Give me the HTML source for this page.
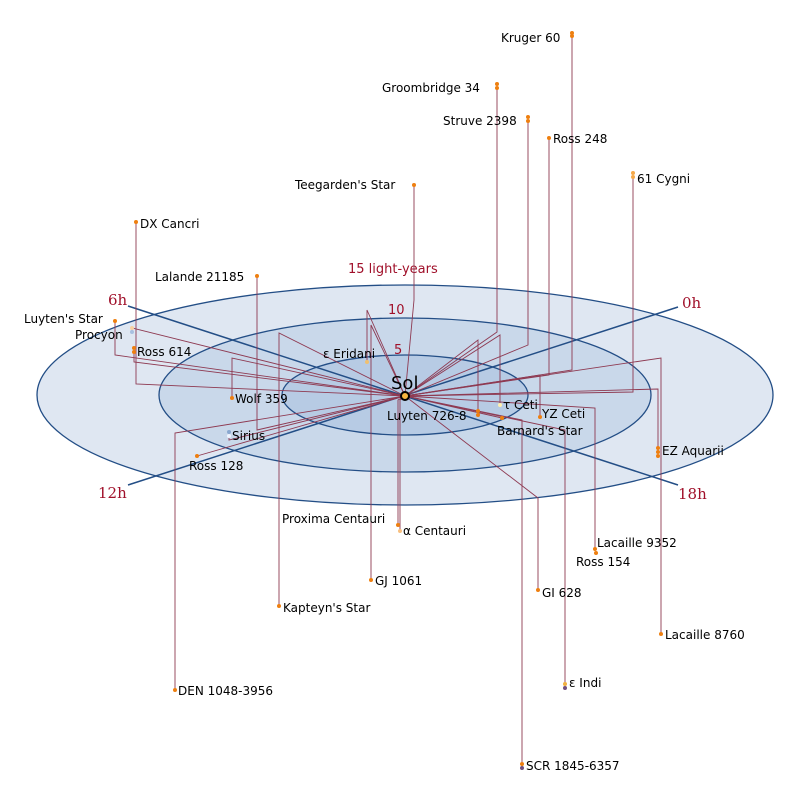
<!DOCTYPE html>
<html><head><meta charset="utf-8"><style>html,body{margin:0;padding:0;background:#fff}svg{display:block}</style></head>
<body>
<svg width="800" height="800" xmlns="http://www.w3.org/2000/svg" font-family="DejaVu Sans, Liberation Sans, sans-serif" font-size="12">
<rect width="800" height="800" fill="#fff"/>
<ellipse cx="405" cy="395" rx="368" ry="110" fill="#dfe7f2" stroke="#234e86" stroke-width="1.3"/>
<ellipse cx="405" cy="395" rx="246" ry="77" fill="#c9d8ea" stroke="#234e86" stroke-width="1.3"/>
<ellipse cx="405" cy="395" rx="123" ry="40" fill="#b7cbe4" stroke="#234e86" stroke-width="1.3"/>
<g stroke="#234e86" stroke-width="1.5">
<line x1="128" y1="306" x2="678" y2="485"/>
<line x1="678" y1="307" x2="128" y2="485"/>
</g>
<g fill="#a0102a" font-family="DejaVu Serif, Liberation Serif, serif">
<text x="108" y="305" font-size="15">6h</text>
<text x="682" y="308" font-size="15">0h</text>
<text x="98" y="498" font-size="15">12h</text>
<text x="678" y="499" font-size="15">18h</text>
</g>
<g fill="#a0102a" font-size="13">
<text x="348" y="273">15 light-years</text>
<text x="388" y="314">10</text>
<text x="394" y="354">5</text>
</g>
<g stroke="#8e3a52" stroke-width="0.9" fill="none">
<polyline points="572,35 572,370 405,396"/>
<polyline points="497,87 497,332 405,396"/>
<polyline points="528,120 528,345 405,396"/>
<polyline points="549,138 549,375 405,396"/>
<polyline points="633,176 633,392 405,396"/>
<polyline points="414,185 414,300 405,396"/>
<polyline points="136,222 136,384 405,396"/>
<polyline points="257,276 257,430 405,396"/>
<polyline points="115,321 115,355 405,396"/>
<polyline points="132,331 132,328 405,396"/>
<polyline points="134,350 134,362 405,396"/>
<polyline points="232,398 232,358 405,396"/>
<polyline points="229,433 229,440 405,396"/>
<polyline points="367,362 367,310 405,396"/>
<polyline points="197,456 405,396"/>
<polyline points="175,690 175,433 405,396"/>
<polyline points="279,606 279,333 405,396"/>
<polyline points="398,525 398,400 405,396"/>
<polyline points="400,531 400,400 405,396"/>
<polyline points="371,580 371,325 405,396"/>
<polyline points="538,590 538,498 405,396"/>
<polyline points="595,550 595,408 405,396"/>
<polyline points="661,634 661,358 405,396"/>
<polyline points="658,452 658,389 405,396"/>
<polyline points="565,686 565,430 405,396"/>
<polyline points="522,766 522,420 405,396"/>
<polyline points="500,405 500,335 405,396"/>
<polyline points="540,415 540,375 405,396"/>
<polyline points="502,418 405,396"/>
<polyline points="478,412 478,340 405,396"/>
</g>
<g fill="#ee7f10">
<circle cx="572" cy="33" r="2"/><circle cx="572" cy="36" r="2"/>
<circle cx="497" cy="84" r="2"/><circle cx="497" cy="88" r="2"/>
<circle cx="528" cy="117" r="2"/><circle cx="528" cy="121" r="2"/>
<circle cx="549" cy="138" r="2"/>
<circle cx="633" cy="173" r="2" fill="#f5a94a"/><circle cx="633" cy="177" r="2" fill="#f5a94a"/>
<circle cx="414" cy="185" r="2"/>
<circle cx="136" cy="222" r="2"/>
<circle cx="257" cy="276" r="2"/>
<circle cx="115" cy="321" r="2"/>
<circle cx="132" cy="328" r="2" fill="#f8d0a0"/><circle cx="132" cy="332" r="2" fill="#a8c0e0"/>
<circle cx="134" cy="348" r="2"/><circle cx="134" cy="352" r="2"/>
<circle cx="232" cy="398" r="2"/>
<circle cx="229" cy="432" r="2" fill="#8aa8d0"/><circle cx="229" cy="436" r="2" fill="#eef4ff"/>
<circle cx="367" cy="362" r="2" fill="#f0c070"/>
<circle cx="197" cy="456" r="2"/>
<circle cx="175" cy="690" r="2"/>
<circle cx="279" cy="606" r="2"/>
<circle cx="398" cy="525" r="2"/>
<circle cx="400" cy="531" r="2" fill="#f8c080"/>
<circle cx="371" cy="580" r="2"/>
<circle cx="538" cy="590" r="2"/>
<circle cx="595" cy="549" r="2"/><circle cx="596" cy="553" r="2"/>
<circle cx="661" cy="634" r="2"/>
<circle cx="658" cy="448" r="2"/><circle cx="658" cy="452" r="2"/><circle cx="658" cy="456" r="2"/>
<circle cx="565" cy="684" r="2" fill="#f0b040"/><circle cx="565" cy="688" r="2" fill="#705080"/>
<circle cx="522" cy="764" r="2"/><circle cx="522" cy="768" r="2" fill="#705080"/>
<circle cx="500" cy="405" r="2" fill="#fff0b0"/>
<circle cx="540" cy="417" r="2"/>
<circle cx="502" cy="418" r="2"/>
<circle cx="478" cy="411" r="2"/><circle cx="478" cy="415" r="2"/>
</g>
<circle cx="405" cy="396" r="4" fill="#f6b540" stroke="#000" stroke-width="2"/>
<g fill="#000">
<text x="391" y="389" font-size="18">Sol</text>
<text x="501" y="42">Kruger 60</text>
<text x="382" y="92">Groombridge 34</text>
<text x="443" y="125">Struve 2398</text>
<text x="553" y="143">Ross 248</text>
<text x="637" y="183">61 Cygni</text>
<text x="295" y="189">Teegarden's Star</text>
<text x="140" y="228">DX Cancri</text>
<text x="155" y="281">Lalande 21185</text>
<text x="24" y="323">Luyten's Star</text>
<text x="75" y="339">Procyon</text>
<text x="137" y="356">Ross 614</text>
<text x="323" y="358">ε Eridani</text>
<text x="235" y="403">Wolf 359</text>
<text x="232" y="440">Sirius</text>
<text x="189" y="470">Ross 128</text>
<text x="387" y="420">Luyten 726-8</text>
<text x="503" y="409">τ Ceti</text>
<text x="542" y="418">YZ Ceti</text>
<text x="497" y="435">Barnard's Star</text>
<text x="662" y="455">EZ Aquarii</text>
<text x="282" y="523">Proxima Centauri</text>
<text x="403" y="535">α Centauri</text>
<text x="597" y="547">Lacaille 9352</text>
<text x="576" y="566">Ross 154</text>
<text x="375" y="585">GJ 1061</text>
<text x="542" y="597">GI 628</text>
<text x="283" y="612">Kapteyn's Star</text>
<text x="665" y="639">Lacaille 8760</text>
<text x="569" y="687">ε Indi</text>
<text x="178" y="695">DEN 1048-3956</text>
<text x="526" y="770">SCR 1845-6357</text>
</g>
</svg>
</body></html>
